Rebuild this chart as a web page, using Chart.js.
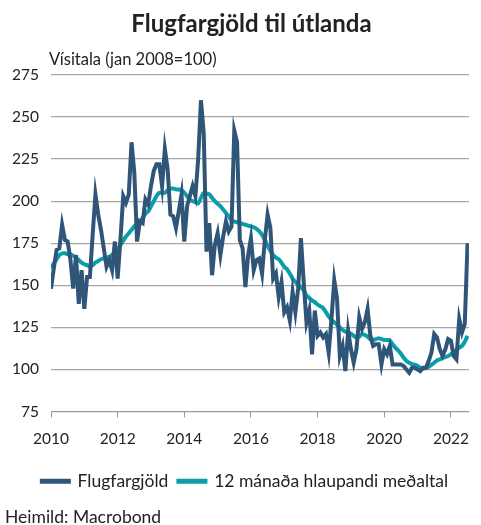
<!DOCTYPE html>
<html>
<head>
<meta charset="utf-8">
<script src="https://cdn.jsdelivr.net/npm/chart.js@4"></script>
<style>
  body { margin: 0; background: #fff; font-family: Lato, "Open Sans", sans-serif; }
  #wrap { position: relative; width: 481px; height: 525px; }
  #wrap div { position: absolute; line-height: 1.2; color: #222; white-space: nowrap; }
  #titill { left: 0; width: 503px; top: 9px; text-align: center; font-size: 24px; font-weight: bold; color: #111; }
  #ylab { left: 49px; top: 50px; font-size: 16.5px; }
  #src { left: 5px; top: 506px; font-size: 17.5px; }
</style>
</head>
<body>
<div id="wrap">
  <canvas id="myChart" width="481" height="525"></canvas>
  <div id="titill">Flugfargjöld til útlanda</div>
  <div id="ylab">Vísitala (jan 2008=100)</div>
  <div id="src">Heimild: Macrobond</div>
</div>
<script>
// manaðarleg gildi, jan 2010 - jul 2022
var flugfargjold = [148,160,171,172,186,177,176,165,148,168,139,159,
  136,155,155,180,204,192,183,172,161,165,159,176,
  154,177,203,199,204,235,217,176,188,187,201,198,
  209,218,222,222,209,231,219,192,191,184,194,204,
  176,197,203,209,203,225,260,240,170,187,156,174,
  181,168,179,188,182,185,242,235,177,172,149,168,
  178,159,165,166,157,177,192,184,154,157,143,152,
  134,137,129,146,134,148,178,152,128,135,109,135,
  120,122,119,121,110,130,153,142,108,114,99,123,
  112,104,112,131,124,128,136,120,114,115,115,103,
  112,109,114,103,103,103,103,102,100,98,101,101,
  100,99,101,101,105,110,121,119,112,108,112,118,
  117,108,106,130,122,127,175];

var medaltal = [160,163,165.5,168,169,169,168.5,168.5,167.5,166.5,165,163.5,
  162.5,162,161.2,162,163.5,164.5,165.5,166,166.5,167,168,170,
  171.5,174,176.5,179,181,183,185,186.5,188,190,192.5,194,
  197,200,203,205,205,205,206.5,207.5,207.5,207,207,206.5,
  205,203,201,200,199.5,198.7,202,205,204.5,204,202,200,
  198.5,197,195,193,191,188.5,188,187.5,187,186.5,186,185.5,
  185,184.5,183.5,182,180,177,173.5,170.5,168,166.5,165.5,163.5,
  161,159.5,157,154,152,150.5,148.8,147,144,142.5,141,140,
  138.5,137.5,136.5,134,131.5,129.5,128,126.5,125,123.5,122.5,122,
  121.2,120,119,119.5,121,120.5,119.5,118,117.6,118,118.6,118,
  117.5,117.5,117.2,115,113,111.3,109.3,107,105,104,103.2,102.8,
  102,101,100.6,100.8,101.5,102.8,104,105.4,106,107,107.4,108,
  109,110,111.5,113,114,116.5,120];

var tickYears = [2010,2012,2014,2016,2018,2020,2022];
var yTicks = [75,100,125,150,175,200,225,250,275];

var pts1 = flugfargjold.map(function (v, i) { return {x: i, y: v}; });
var pts2 = medaltal.map(function (v, i) { return {x: i, y: v}; });

// flytur skýringuna aðeins til hægri eins og á myndinni
var legendShift = {
  id: 'legendShift',
  afterLayout: function (chart) {
    chart.legend.left += 6;
    chart.legend.right += 6;
  }
};

var ctx = document.getElementById('myChart').getContext('2d');
var myChart = new Chart(ctx, {
  type: 'line',
  data: {
    datasets: [{
      label: 'Flugfargjöld',
      data: pts1,
      borderColor: '#2f5579',
      backgroundColor: '#2f5579',
      borderWidth: 4,
      pointRadius: 0,
      tension: 0
    }, {
      label: '12 mánaða hlaupandi meðaltal',
      data: pts2,
      borderColor: '#0a9dab',
      backgroundColor: '#0a9dab',
      borderWidth: 4,
      pointRadius: 0,
      tension: 0.3
    }]
  },
  plugins: [legendShift],
  options: {
    responsive: false,
    animation: false,
    layout: { padding: { top: 75, right: 3, left: 0, bottom: 25 } },
    plugins: {
      legend: {
        position: 'bottom',
        labels: {
          boxWidth: 27,
          boxHeight: 1,
          padding: 10,
          font: { family: 'Lato', size: 17.5 },
          color: '#222'
        }
      },
      tooltip: { enabled: false }
    },
    scales: {
      x: {
        type: 'linear',
        min: 0,
        max: 150.5,
        afterBuildTicks: function (scale) {
          scale.ticks = tickYears.map(function (y) { return {value: (y - 2010) * 12}; });
        },
        afterFit: function (scale) { scale.height = 51; },
        ticks: {
          autoSkip: false,
          maxRotation: 0,
          padding: 12,
          font: { family: 'Lato', size: 15.5 },
          color: '#222',
          callback: function (v) { return String(2010 + v / 12); }
        },
        grid: { drawOnChartArea: false, drawTicks: true, tickLength: 6, color: '#999' },
        border: { display: true, color: '#999', width: 1 }
      },
      y: {
        min: 75,
        max: 275,
        afterBuildTicks: function (scale) {
          scale.ticks = yTicks.map(function (v) { return {value: v}; });
        },
        afterFit: function (scale) { scale.width = 51; },
        ticks: {
          padding: 12,
          font: { family: 'Lato', size: 15.5 },
          color: '#222'
        },
        grid: { color: '#a6a6a6', drawTicks: false, lineWidth: 1.3 },
        border: { display: false }
      }
    }
  }
});
</script>
</body>
</html>
